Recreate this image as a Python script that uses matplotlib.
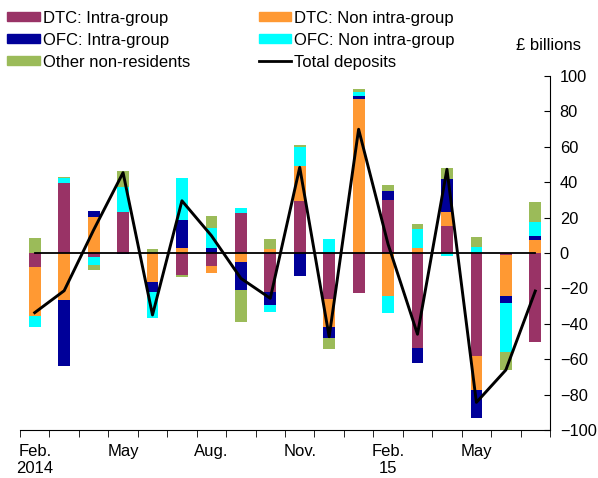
import numpy as np
import matplotlib
matplotlib.use("Agg")
import matplotlib.pyplot as plt
from matplotlib.patches import Patch
from matplotlib.lines import Line2D

plt.rcParams["font.family"] = ["Liberation Sans", "DejaVu Sans"]

# ---------- Data (£ billions, monthly Feb 2014 - Jul 2015) ----------
months = ["Feb 2014", "Mar 2014", "Apr 2014", "May 2014", "Jun 2014", "Jul 2014",
          "Aug 2014", "Sep 2014", "Oct 2014", "Nov 2014", "Dec 2014", "Jan 2015",
          "Feb 2015", "Mar 2015", "Apr 2015", "May 2015", "Jun 2015", "Jul 2015"]

dtc_intra = [-7.7, 39.5, -2.1, 23.4, 0.0, -12.4, -7.3, 22.8, -21.9, 29.4,
             -26.0, -22.4, 29.9, -53.5, 15.3, -58.2, -1.2, -50.5]
dtc_non = [-28.0, -26.6, 20.5, 0.0, -16.4, 3.0, -3.8, -5.3, 2.2, 19.9,
           -15.6, 86.8, -24.3, 3.0, 8.1, -19.2, -23.1, 7.3]
ofc_intra = [0.0, -37.0, 3.2, -0.8, -5.6, 15.6, 3.0, -15.6, -7.5, -13.0,
             -6.6, 2.1, 5.1, -8.5, 18.4, -15.6, -4.1, 2.5]
ofc_non = [-6.0, 3.0, -4.7, 13.7, -14.9, 23.9, 11.3, 2.4, -4.1, 10.4,
           7.7, 2.2, -9.4, 10.7, -1.5, 3.2, -27.3, 7.5]
other = [8.3, 0.5, -2.8, 9.2, 2.0, -0.9, 6.6, -18.3, 5.7, 1.5,
         -6.2, 1.3, 3.4, 2.7, 6.4, 5.7, -10.4, 11.3]
total = [-33.7, -21.3, 13.0, 45.4, -35.0, 29.5, 9.8, -14.3, -25.6, 48.4,
         -47.3, 69.9, 5.0, -45.9, 47.3, -84.4, -66.1, -21.5]

series_names = ["DTC: Intra-group", "DTC: Non intra-group", "OFC: Intra-group",
                "OFC: Non intra-group", "Other non-residents"]
series_vals = [dtc_intra, dtc_non, ofc_intra, ofc_non, other]
colors = ["#993366", "#FF9933", "#000099", "#00FFFF", "#9BBB59"]

tick_pos = [0, 3, 6, 9, 12, 15]
tick_labels = ["Feb.\n2014", "May", "Aug.", "Nov.", "Feb.\n15", "May"]

FS = 12

# ---------- Plot ----------
fig = plt.figure(figsize=(5.98, 4.78), dpi=100)
ax = fig.add_axes([20 / 598, 1 - 430 / 478, 530 / 598, 354 / 478])

x = np.arange(len(months))
pos_bottom = np.zeros(len(x))
neg_bottom = np.zeros(len(x))
for name, vals, col in zip(series_names, series_vals, colors):
    v = np.array(vals)
    pos = np.where(v > 0, v, 0)
    neg = np.where(v < 0, v, 0)
    ax.bar(x, pos, width=0.4, bottom=pos_bottom, color=col, linewidth=0)
    ax.bar(x, neg, width=0.4, bottom=neg_bottom, color=col, linewidth=0)
    pos_bottom += pos
    neg_bottom += neg

ax.plot([x[0], x[-1]], [0, 0], color="black", lw=1.3)
ax.plot(x, total, color="black", lw=2.1)

ax.set_xlim(-0.5, len(x) - 0.5)
ax.set_ylim(-100, 100)

for s in ["left", "top"]:
    ax.spines[s].set_visible(False)
ax.spines["bottom"].set_position(("data", -100))

ax.yaxis.tick_right()
ax.set_yticks(np.arange(-100, 101, 20))
ax.tick_params(axis="y", direction="in", length=4, pad=7, labelsize=11.8)

ax.set_xticks(tick_pos)
ax.set_xticklabels(tick_labels)
ax.set_xticks(np.arange(-0.5, len(x), 1), minor=True)
ax.tick_params(axis="x", which="major", length=0, pad=10, labelsize=FS)
ax.tick_params(axis="x", which="minor", direction="out", length=5)

fig.text(548 / 598, 1 - 46 / 478, "£ billions", ha="center", va="center", fontsize=FS)

handles = [Patch(color=colors[0]), Patch(color=colors[2]), Patch(color=colors[4]),
           Patch(color=colors[1]), Patch(color=colors[3]),
           Line2D([], [], color="black", lw=2)]
labels = [series_names[0], series_names[2], series_names[4],
          series_names[1], series_names[3], "Total deposits"]
fig.legend(handles, labels, ncol=2, loc="upper left", bbox_to_anchor=(0.012, 0.978),
           frameon=False, fontsize=FS, handlelength=1.95, handleheight=0.5,
           handletextpad=0.2, columnspacing=4.1, labelspacing=0.42,
           borderpad=0, borderaxespad=0)

fig.savefig("out.png", dpi=100)
